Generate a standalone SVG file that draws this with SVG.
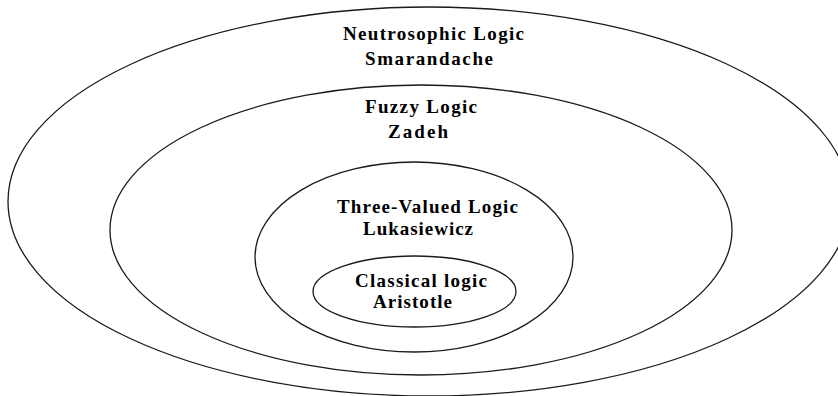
<svg xmlns="http://www.w3.org/2000/svg" width="838" height="396" viewBox="0 0 838 396">
<style>
.ring{fill:none;stroke:#1a1a1a;stroke-width:1.3}
.lbl{font-family:"Liberation Serif","Times New Roman",serif;font-weight:bold;font-size:19px;fill:#000}
</style>
<rect width="838" height="396" fill="#fff"/>
<g id="neutrosophic">
<ellipse class="ring" cx="429" cy="201.5" rx="421" ry="194.5"/>
<text class="lbl" x="343" y="40" textLength="181" lengthAdjust="spacing">Neutrosophic Logic</text>
<text class="lbl" x="365" y="65" textLength="128" lengthAdjust="spacing">Smarandache</text>
</g>
<g id="fuzzy">
<ellipse class="ring" cx="421" cy="230" rx="311" ry="145"/>
<text class="lbl" x="365" y="113" textLength="112" lengthAdjust="spacing">Fuzzy Logic</text>
<text class="lbl" x="388" y="138" textLength="60" lengthAdjust="spacing">Zadeh</text>
</g>
<g id="three-valued">
<ellipse class="ring" cx="414" cy="257" rx="159" ry="95"/>
<text class="lbl" x="337" y="213" textLength="181" lengthAdjust="spacing">Three-Valued Logic</text>
<text class="lbl" x="363" y="235" textLength="110" lengthAdjust="spacing">Lukasiewicz</text>
</g>
<g id="classical">
<ellipse class="ring" cx="414.5" cy="291.5" rx="101.5" ry="35.5"/>
<text class="lbl" x="355" y="287" textLength="132" lengthAdjust="spacing">Classical logic</text>
<text class="lbl" x="373" y="308" textLength="79" lengthAdjust="spacing">Aristotle</text>
</g>
</svg>
